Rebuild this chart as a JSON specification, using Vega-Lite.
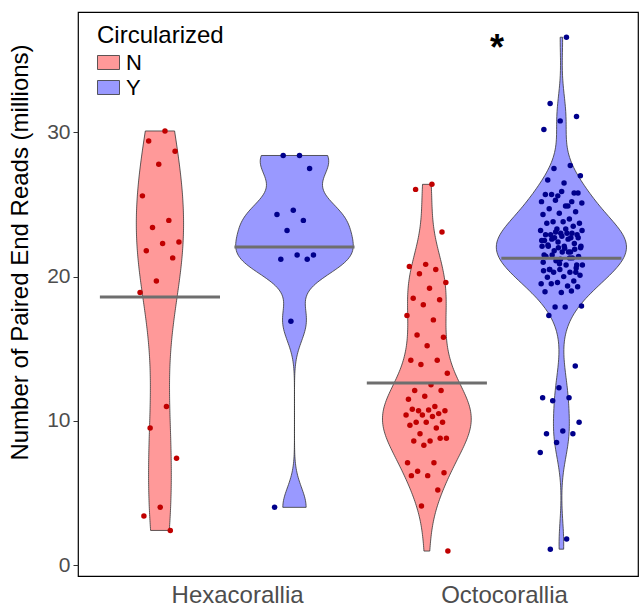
{
  "$schema": "https://vega.github.io/schema/vega-lite/v6.json",
  "width": 560,
  "height": 564,
  "autosize": {"type": "none"},
  "padding": {"left": 78, "top": 12, "right": 2, "bottom": 30},
  "config": {
    "font": "Liberation Sans",
    "view": {"stroke": "black", "strokeWidth": 1.2},
    "axis": {"grid": false, "domain": false}
  },
  "datasets": {
    "reads": [
      {"clade": "Hexacorallia", "circ": "N", "reads": 30.1},
      {"clade": "Hexacorallia", "circ": "N", "reads": 29.4},
      {"clade": "Hexacorallia", "circ": "N", "reads": 28.7},
      {"clade": "Hexacorallia", "circ": "N", "reads": 27.8},
      {"clade": "Hexacorallia", "circ": "N", "reads": 25.6},
      {"clade": "Hexacorallia", "circ": "N", "reads": 23.9},
      {"clade": "Hexacorallia", "circ": "N", "reads": 23.4},
      {"clade": "Hexacorallia", "circ": "N", "reads": 22.4},
      {"clade": "Hexacorallia", "circ": "N", "reads": 22.3},
      {"clade": "Hexacorallia", "circ": "N", "reads": 21.8},
      {"clade": "Hexacorallia", "circ": "N", "reads": 21.3},
      {"clade": "Hexacorallia", "circ": "N", "reads": 19.7},
      {"clade": "Hexacorallia", "circ": "N", "reads": 18.9},
      {"clade": "Hexacorallia", "circ": "N", "reads": 11.0},
      {"clade": "Hexacorallia", "circ": "N", "reads": 9.5},
      {"clade": "Hexacorallia", "circ": "N", "reads": 7.4},
      {"clade": "Hexacorallia", "circ": "N", "reads": 4.0},
      {"clade": "Hexacorallia", "circ": "N", "reads": 3.4},
      {"clade": "Hexacorallia", "circ": "N", "reads": 2.4},
      {"clade": "Hexacorallia", "circ": "Y", "reads": 28.4},
      {"clade": "Hexacorallia", "circ": "Y", "reads": 28.4},
      {"clade": "Hexacorallia", "circ": "Y", "reads": 27.5},
      {"clade": "Hexacorallia", "circ": "Y", "reads": 24.6},
      {"clade": "Hexacorallia", "circ": "Y", "reads": 24.3},
      {"clade": "Hexacorallia", "circ": "Y", "reads": 23.9},
      {"clade": "Hexacorallia", "circ": "Y", "reads": 23.2},
      {"clade": "Hexacorallia", "circ": "Y", "reads": 21.5},
      {"clade": "Hexacorallia", "circ": "Y", "reads": 21.5},
      {"clade": "Hexacorallia", "circ": "Y", "reads": 21.2},
      {"clade": "Hexacorallia", "circ": "Y", "reads": 21.2},
      {"clade": "Hexacorallia", "circ": "Y", "reads": 16.9},
      {"clade": "Hexacorallia", "circ": "Y", "reads": 4.0},
      {"clade": "Octocorallia", "circ": "N", "reads": 26.4},
      {"clade": "Octocorallia", "circ": "N", "reads": 26.05},
      {"clade": "Octocorallia", "circ": "N", "reads": 23.1},
      {"clade": "Octocorallia", "circ": "N", "reads": 20.85},
      {"clade": "Octocorallia", "circ": "N", "reads": 20.7},
      {"clade": "Octocorallia", "circ": "N", "reads": 20.5},
      {"clade": "Octocorallia", "circ": "N", "reads": 20.2},
      {"clade": "Octocorallia", "circ": "N", "reads": 19.6},
      {"clade": "Octocorallia", "circ": "N", "reads": 19.2},
      {"clade": "Octocorallia", "circ": "N", "reads": 18.5},
      {"clade": "Octocorallia", "circ": "N", "reads": 18.4},
      {"clade": "Octocorallia", "circ": "N", "reads": 18.05},
      {"clade": "Octocorallia", "circ": "N", "reads": 17.3},
      {"clade": "Octocorallia", "circ": "N", "reads": 17.0},
      {"clade": "Octocorallia", "circ": "N", "reads": 15.95},
      {"clade": "Octocorallia", "circ": "N", "reads": 15.8},
      {"clade": "Octocorallia", "circ": "N", "reads": 15.2},
      {"clade": "Octocorallia", "circ": "N", "reads": 14.2},
      {"clade": "Octocorallia", "circ": "N", "reads": 14.2},
      {"clade": "Octocorallia", "circ": "N", "reads": 13.9},
      {"clade": "Octocorallia", "circ": "N", "reads": 13.3},
      {"clade": "Octocorallia", "circ": "N", "reads": 12.5},
      {"clade": "Octocorallia", "circ": "N", "reads": 12.1},
      {"clade": "Octocorallia", "circ": "N", "reads": 12.1},
      {"clade": "Octocorallia", "circ": "N", "reads": 11.7},
      {"clade": "Octocorallia", "circ": "N", "reads": 11.5},
      {"clade": "Octocorallia", "circ": "N", "reads": 11.0},
      {"clade": "Octocorallia", "circ": "N", "reads": 10.7},
      {"clade": "Octocorallia", "circ": "N", "reads": 10.7},
      {"clade": "Octocorallia", "circ": "N", "reads": 10.75},
      {"clade": "Octocorallia", "circ": "N", "reads": 10.8},
      {"clade": "Octocorallia", "circ": "N", "reads": 10.5},
      {"clade": "Octocorallia", "circ": "N", "reads": 10.4},
      {"clade": "Octocorallia", "circ": "N", "reads": 10.4},
      {"clade": "Octocorallia", "circ": "N", "reads": 10.3},
      {"clade": "Octocorallia", "circ": "N", "reads": 9.9},
      {"clade": "Octocorallia", "circ": "N", "reads": 9.9},
      {"clade": "Octocorallia", "circ": "N", "reads": 9.9},
      {"clade": "Octocorallia", "circ": "N", "reads": 9.7},
      {"clade": "Octocorallia", "circ": "N", "reads": 9.5},
      {"clade": "Octocorallia", "circ": "N", "reads": 9.1},
      {"clade": "Octocorallia", "circ": "N", "reads": 8.8},
      {"clade": "Octocorallia", "circ": "N", "reads": 8.6},
      {"clade": "Octocorallia", "circ": "N", "reads": 8.6},
      {"clade": "Octocorallia", "circ": "N", "reads": 8.8},
      {"clade": "Octocorallia", "circ": "N", "reads": 8.3},
      {"clade": "Octocorallia", "circ": "N", "reads": 7.1},
      {"clade": "Octocorallia", "circ": "N", "reads": 7.1},
      {"clade": "Octocorallia", "circ": "N", "reads": 6.5},
      {"clade": "Octocorallia", "circ": "N", "reads": 6.4},
      {"clade": "Octocorallia", "circ": "N", "reads": 6.2},
      {"clade": "Octocorallia", "circ": "N", "reads": 6.2},
      {"clade": "Octocorallia", "circ": "N", "reads": 5.2},
      {"clade": "Octocorallia", "circ": "N", "reads": 4.1},
      {"clade": "Octocorallia", "circ": "N", "reads": 0.97},
      {"clade": "Octocorallia", "circ": "Y", "reads": 36.6},
      {"clade": "Octocorallia", "circ": "Y", "reads": 32.0},
      {"clade": "Octocorallia", "circ": "Y", "reads": 31.1},
      {"clade": "Octocorallia", "circ": "Y", "reads": 30.8},
      {"clade": "Octocorallia", "circ": "Y", "reads": 30.2},
      {"clade": "Octocorallia", "circ": "Y", "reads": 27.7},
      {"clade": "Octocorallia", "circ": "Y", "reads": 27.5},
      {"clade": "Octocorallia", "circ": "Y", "reads": 27.0},
      {"clade": "Octocorallia", "circ": "Y", "reads": 26.5},
      {"clade": "Octocorallia", "circ": "Y", "reads": 26.7},
      {"clade": "Octocorallia", "circ": "Y", "reads": 25.8},
      {"clade": "Octocorallia", "circ": "Y", "reads": 25.6},
      {"clade": "Octocorallia", "circ": "Y", "reads": 25.2},
      {"clade": "Octocorallia", "circ": "Y", "reads": 24.9},
      {"clade": "Octocorallia", "circ": "Y", "reads": 25.7},
      {"clade": "Octocorallia", "circ": "Y", "reads": 25.8},
      {"clade": "Octocorallia", "circ": "Y", "reads": 25.9},
      {"clade": "Octocorallia", "circ": "Y", "reads": 25.7},
      {"clade": "Octocorallia", "circ": "Y", "reads": 25.2},
      {"clade": "Octocorallia", "circ": "Y", "reads": 25.3},
      {"clade": "Octocorallia", "circ": "Y", "reads": 25.1},
      {"clade": "Octocorallia", "circ": "Y", "reads": 24.9},
      {"clade": "Octocorallia", "circ": "Y", "reads": 24.7},
      {"clade": "Octocorallia", "circ": "Y", "reads": 24.5},
      {"clade": "Octocorallia", "circ": "Y", "reads": 24.4},
      {"clade": "Octocorallia", "circ": "Y", "reads": 24.3},
      {"clade": "Octocorallia", "circ": "Y", "reads": 24.0},
      {"clade": "Octocorallia", "circ": "Y", "reads": 23.8},
      {"clade": "Octocorallia", "circ": "Y", "reads": 23.7},
      {"clade": "Octocorallia", "circ": "Y", "reads": 23.8},
      {"clade": "Octocorallia", "circ": "Y", "reads": 23.7},
      {"clade": "Octocorallia", "circ": "Y", "reads": 23.5},
      {"clade": "Octocorallia", "circ": "Y", "reads": 23.3},
      {"clade": "Octocorallia", "circ": "Y", "reads": 23.2},
      {"clade": "Octocorallia", "circ": "Y", "reads": 23.0},
      {"clade": "Octocorallia", "circ": "Y", "reads": 22.9},
      {"clade": "Octocorallia", "circ": "Y", "reads": 22.9},
      {"clade": "Octocorallia", "circ": "Y", "reads": 23.0},
      {"clade": "Octocorallia", "circ": "Y", "reads": 22.5},
      {"clade": "Octocorallia", "circ": "Y", "reads": 22.7},
      {"clade": "Octocorallia", "circ": "Y", "reads": 22.7},
      {"clade": "Octocorallia", "circ": "Y", "reads": 22.1},
      {"clade": "Octocorallia", "circ": "Y", "reads": 21.96},
      {"clade": "Octocorallia", "circ": "Y", "reads": 22.1},
      {"clade": "Octocorallia", "circ": "Y", "reads": 21.9},
      {"clade": "Octocorallia", "circ": "Y", "reads": 22.0},
      {"clade": "Octocorallia", "circ": "Y", "reads": 22.1},
      {"clade": "Octocorallia", "circ": "Y", "reads": 21.7},
      {"clade": "Octocorallia", "circ": "Y", "reads": 21.5},
      {"clade": "Octocorallia", "circ": "Y", "reads": 21.4},
      {"clade": "Octocorallia", "circ": "Y", "reads": 21.7},
      {"clade": "Octocorallia", "circ": "Y", "reads": 21.4},
      {"clade": "Octocorallia", "circ": "Y", "reads": 21.3},
      {"clade": "Octocorallia", "circ": "Y", "reads": 21.1},
      {"clade": "Octocorallia", "circ": "Y", "reads": 20.8},
      {"clade": "Octocorallia", "circ": "Y", "reads": 20.8},
      {"clade": "Octocorallia", "circ": "Y", "reads": 20.5},
      {"clade": "Octocorallia", "circ": "Y", "reads": 20.6},
      {"clade": "Octocorallia", "circ": "Y", "reads": 20.5},
      {"clade": "Octocorallia", "circ": "Y", "reads": 20.4},
      {"clade": "Octocorallia", "circ": "Y", "reads": 20.3},
      {"clade": "Octocorallia", "circ": "Y", "reads": 20.3},
      {"clade": "Octocorallia", "circ": "Y", "reads": 20.1},
      {"clade": "Octocorallia", "circ": "Y", "reads": 20.0},
      {"clade": "Octocorallia", "circ": "Y", "reads": 19.95},
      {"clade": "Octocorallia", "circ": "Y", "reads": 19.7},
      {"clade": "Octocorallia", "circ": "Y", "reads": 19.6},
      {"clade": "Octocorallia", "circ": "Y", "reads": 19.5},
      {"clade": "Octocorallia", "circ": "Y", "reads": 19.35},
      {"clade": "Octocorallia", "circ": "Y", "reads": 19.5},
      {"clade": "Octocorallia", "circ": "Y", "reads": 19.3},
      {"clade": "Octocorallia", "circ": "Y", "reads": 18.9},
      {"clade": "Octocorallia", "circ": "Y", "reads": 18.95},
      {"clade": "Octocorallia", "circ": "Y", "reads": 19.0},
      {"clade": "Octocorallia", "circ": "Y", "reads": 17.9},
      {"clade": "Octocorallia", "circ": "Y", "reads": 17.96},
      {"clade": "Octocorallia", "circ": "Y", "reads": 17.9},
      {"clade": "Octocorallia", "circ": "Y", "reads": 17.3},
      {"clade": "Octocorallia", "circ": "Y", "reads": 13.8},
      {"clade": "Octocorallia", "circ": "Y", "reads": 12.3},
      {"clade": "Octocorallia", "circ": "Y", "reads": 11.6},
      {"clade": "Octocorallia", "circ": "Y", "reads": 11.6},
      {"clade": "Octocorallia", "circ": "Y", "reads": 11.4},
      {"clade": "Octocorallia", "circ": "Y", "reads": 9.9},
      {"clade": "Octocorallia", "circ": "Y", "reads": 9.3},
      {"clade": "Octocorallia", "circ": "Y", "reads": 9.1},
      {"clade": "Octocorallia", "circ": "Y", "reads": 9.1},
      {"clade": "Octocorallia", "circ": "Y", "reads": 8.5},
      {"clade": "Octocorallia", "circ": "Y", "reads": 7.8},
      {"clade": "Octocorallia", "circ": "Y", "reads": 1.8},
      {"clade": "Octocorallia", "circ": "Y", "reads": 1.1},
      {"clade": "Octocorallia", "circ": "Y", "reads": 20.8},
      {"clade": "Octocorallia", "circ": "Y", "reads": 21.2},
      {"clade": "Octocorallia", "circ": "Y", "reads": 21.5},
      {"clade": "Octocorallia", "circ": "Y", "reads": 21.7},
      {"clade": "Octocorallia", "circ": "Y", "reads": 21.8},
      {"clade": "Octocorallia", "circ": "Y", "reads": 22.0},
      {"clade": "Octocorallia", "circ": "Y", "reads": 22.1},
      {"clade": "Octocorallia", "circ": "Y", "reads": 22.2},
      {"clade": "Octocorallia", "circ": "Y", "reads": 22.3},
      {"clade": "Octocorallia", "circ": "Y", "reads": 22.4},
      {"clade": "Octocorallia", "circ": "Y", "reads": 22.5},
      {"clade": "Octocorallia", "circ": "Y", "reads": 22.6},
      {"clade": "Octocorallia", "circ": "Y", "reads": 22.6},
      {"clade": "Octocorallia", "circ": "Y", "reads": 22.7},
      {"clade": "Octocorallia", "circ": "Y", "reads": 22.8},
      {"clade": "Octocorallia", "circ": "Y", "reads": 22.9},
      {"clade": "Octocorallia", "circ": "Y", "reads": 23.0},
      {"clade": "Octocorallia", "circ": "Y", "reads": 23.1},
      {"clade": "Octocorallia", "circ": "Y", "reads": 23.2},
      {"clade": "Octocorallia", "circ": "Y", "reads": 23.3},
      {"clade": "Octocorallia", "circ": "Y", "reads": 20.5},
      {"clade": "Octocorallia", "circ": "Y", "reads": 20.3},
      {"clade": "Octocorallia", "circ": "Y", "reads": 20.9},
      {"clade": "Octocorallia", "circ": "Y", "reads": 21.0},
      {"clade": "Octocorallia", "circ": "Y", "reads": 21.3}
    ],
    "note": [
      {"label": "*", "xp": 1.974, "reads": 35.05}
    ]
  },
  "data": {"name": "reads"},
  "encoding": {
    "x": {
      "field": "xp",
      "type": "quantitative",
      "scale": {"domain": [0.404, 2.502], "nice": false, "zero": false},
      "axis": {
        "values": [1, 2],
        "labelExpr": "datum.value == 1 ? 'Hexacorallia' : 'Octocorallia'",
        "title": null,
        "ticks": false,
        "labelPadding": 7,
        "labelFontSize": 24,
        "labelColor": "#4D4D4D",
        "labelFlush": false
      }
    },
    "y": {
      "field": "reads",
      "type": "quantitative",
      "scale": {"domain": [-0.76, 38.35], "nice": false, "zero": false},
      "axis": {
        "values": [0, 10, 20, 30],
        "title": "Number of Paired End Reads (millions)",
        "titleFontSize": 24,
        "titleFontWeight": "normal",
        "titleColor": "black",
        "titleAngle": -90,
        "titleBaseline": "alphabetic",
        "titleAlign": "center",
        "titleX": -51,
        "titleY": 240,
        "labelFontSize": 21,
        "labelColor": "#4D4D4D",
        "labelPadding": 3,
        "tickSize": 5,
        "tickColor": "#333333",
        "labelFlush": false
      }
    }
  },
  "layer": [
    {
      "encoding": {
        "x2": {"field": "xp2"},
        "fill": {
          "field": "circ",
          "type": "nominal",
          "scale": {"domain": ["N", "Y"], "range": ["#FF9999", "#9999FF"]},
          "legend": {
            "title": "Circularized",
            "orient": "none",
            "legendX": 19,
            "legendY": 12,
            "padding": 0,
            "titleFontSize": 24,
            "titleFontWeight": "normal",
            "titleColor": "black",
            "titlePadding": 3,
            "labelFontSize": 22,
            "labelColor": "black",
            "labelOffset": 6,
            "rowPadding": 2,
            "symbolType": "M-1,-0.636H1V0.636H-1Z",
            "symbolSize": 484,
            "symbolStrokeColor": "#333333",
            "symbolStrokeWidth": 0.8,
            "symbolOpacity": 1
          }
        }
      },
      "layer": [
        {
          "transform": [
            {"filter": "datum.clade == 'Hexacorallia' && datum.circ == 'N'"},
            {"density": "reads", "groupby": ["clade", "circ"], "bandwidth": 4.64, "steps": 200, "as": ["reads", "dens"]},
            {"calculate": "(datum.clade == 'Hexacorallia' ? 1 : 2) + (datum.circ == 'N' ? -0.289 : 0.215)", "as": "xc"},
            {"calculate": "datum.xc - 1.95 * datum.dens", "as": "xp"},
            {"calculate": "datum.xc + 1.95 * datum.dens", "as": "xp2"}
          ],
          "mark": {"type": "area", "orient": "horizontal", "stroke": "#333333", "strokeWidth": 0.8, "opacity": 1}
        },
        {
          "transform": [
            {"filter": "datum.clade == 'Hexacorallia' && datum.circ == 'Y'"},
            {"density": "reads", "groupby": ["clade", "circ"], "bandwidth": 1.37, "steps": 200, "as": ["reads", "dens"]},
            {"calculate": "(datum.clade == 'Hexacorallia' ? 1 : 2) + (datum.circ == 'N' ? -0.289 : 0.215)", "as": "xc"},
            {"calculate": "datum.xc - 1.95 * datum.dens", "as": "xp"},
            {"calculate": "datum.xc + 1.95 * datum.dens", "as": "xp2"}
          ],
          "mark": {"type": "area", "orient": "horizontal", "stroke": "#333333", "strokeWidth": 0.8, "opacity": 1}
        },
        {
          "transform": [
            {"filter": "datum.clade == 'Octocorallia' && datum.circ == 'N'"},
            {"density": "reads", "groupby": ["clade", "circ"], "bandwidth": 2.02, "steps": 200, "as": ["reads", "dens"]},
            {"calculate": "(datum.clade == 'Hexacorallia' ? 1 : 2) + (datum.circ == 'N' ? -0.289 : 0.215)", "as": "xc"},
            {"calculate": "datum.xc - 1.95 * datum.dens", "as": "xp"},
            {"calculate": "datum.xc + 1.95 * datum.dens", "as": "xp2"}
          ],
          "mark": {"type": "area", "orient": "horizontal", "stroke": "#333333", "strokeWidth": 0.8, "opacity": 1}
        },
        {
          "transform": [
            {"filter": "datum.clade == 'Octocorallia' && datum.circ == 'Y'"},
            {"density": "reads", "groupby": ["clade", "circ"], "bandwidth": 1.5, "steps": 200, "as": ["reads", "dens"]},
            {"calculate": "(datum.clade == 'Hexacorallia' ? 1 : 2) + (datum.circ == 'N' ? -0.289 : 0.215)", "as": "xc"},
            {"calculate": "datum.xc - 1.95 * datum.dens", "as": "xp"},
            {"calculate": "datum.xc + 1.95 * datum.dens", "as": "xp2"}
          ],
          "mark": {"type": "area", "orient": "horizontal", "stroke": "#333333", "strokeWidth": 0.8, "opacity": 1}
        }
      ]
    },
    {
      "transform": [
        {"window": [{"op": "row_number", "as": "rn"}], "groupby": ["clade", "circ"]},
        {"calculate": "(datum.clade == 'Hexacorallia' ? 1 : 2) + (datum.circ == 'N' ? -0.289 : 0.215)", "as": "xc"},
        {"calculate": "datum.xc + ((datum.rn * 0.6180339887) % 1 - 0.5) * 0.16", "as": "xp"}
      ],
      "mark": {"type": "circle", "size": 30, "opacity": 1},
      "encoding": {
        "color": {
          "field": "circ",
          "type": "nominal",
          "scale": {"domain": ["N", "Y"], "range": ["#C00000", "#00008B"]},
          "legend": null
        }
      }
    },
    {
      "transform": [
        {"aggregate": [{"op": "mean", "field": "reads", "as": "reads"}], "groupby": ["clade", "circ"]},
        {"calculate": "(datum.clade == 'Hexacorallia' ? 1 : 2) + (datum.circ == 'N' ? -0.289 : 0.215)", "as": "xc"},
        {"calculate": "datum.xc - 0.225", "as": "xp"},
        {"calculate": "datum.xc + 0.225", "as": "xp2"}
      ],
      "mark": {"type": "rule", "color": "#6E6E6E", "strokeWidth": 3},
      "encoding": {"x2": {"field": "xp2"}}
    },
    {
      "data": {"name": "note"},
      "mark": {"type": "text", "fontSize": 36, "fontWeight": "bold", "align": "center", "baseline": "alphabetic", "color": "black"},
      "encoding": {"text": {"field": "label"}}
    }
  ]
}
